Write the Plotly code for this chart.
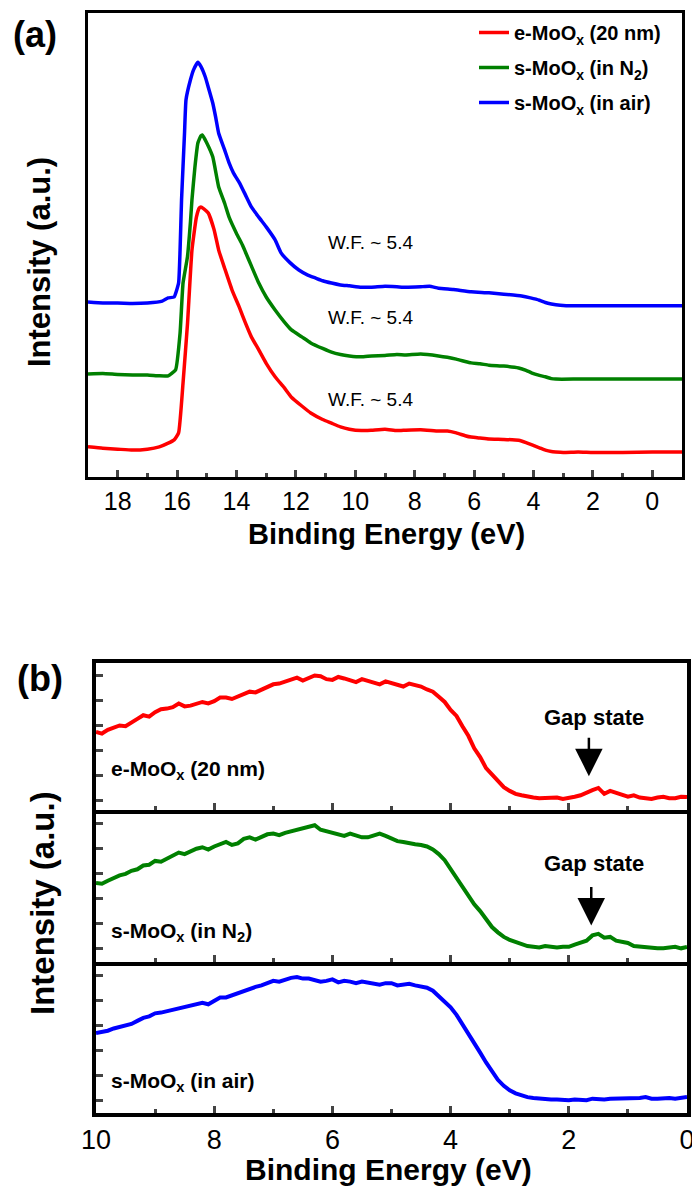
import plotly.graph_objects as go

W, H = 692, 1186
def px(x):
    return x / W
def py(y):
    return 1 - y / H

FONT = "Liberation Sans, Arial, sans-serif"
RED, GREEN, BLUE = "#ff0000", "#008000", "#0000ff"

# ---------------- Panel (a): secondary-electron cutoff spectra (binding energy, intensity a.u.) ----
red_a = [(19.0, 6.5), (18.5, 6.2), (18.0, 6.0), (17.5, 5.8), (17.0, 6.0), (16.6, 6.5), (16.3, 7.3),
         (16.1, 8.0), (15.95, 9.5), (15.8, 20.3), (15.65, 33.0), (15.5, 48.9), (15.35, 56.0),
         (15.25, 58.0), (15.2, 58.2), (15.1, 57.8), (14.95, 56.9), (14.75, 53.2), (14.6, 48.9),
         (14.4, 45.0), (14.15, 40.3), (13.9, 36.5), (13.7, 33.2), (13.5, 30.2), (13.25, 27.4),
         (13.0, 24.5), (12.7, 21.6), (12.4, 19.3), (12.15, 17.2), (11.8, 15.3), (11.5, 13.8),
         (11.1, 12.4), (10.8, 11.6), (10.5, 10.8), (10.2, 10.3), (9.8, 10.0), (9.45, 10.1),
         (9.0, 10.3), (8.6, 10.0), (8.3, 10.1), (7.8, 10.2), (7.2, 9.9), (6.9, 9.9), (6.6, 9.5),
         (6.3, 8.9), (6.1, 8.6), (5.8, 8.4), (5.5, 8.2), (5.0, 8.1), (4.5, 7.9), (4.25, 7.4),
         (4.05, 6.9), (3.8, 6.3), (3.6, 5.8), (3.4, 5.5), (3.25, 5.4), (3.0, 5.3), (2.5, 5.4),
         (2.0, 5.3), (1.0, 5.3), (0.0, 5.4), (-1.0, 5.4)]
green_a = [(19.0, 22.2), (18.5, 22.3), (18.0, 22.1), (17.5, 22.0), (17.0, 22.0), (16.6, 21.8),
           (16.3, 21.8), (16.05, 23.1), (15.9, 31.0), (15.8, 41.8), (15.65, 47.5), (15.55, 55.0),
           (15.5, 59.7), (15.4, 66.8), (15.3, 72.0), (15.2, 73.5), (15.15, 73.7), (15.0, 72.0),
           (14.8, 69.0), (14.6, 62.5), (14.4, 59.0), (14.25, 56.0), (14.0, 52.5), (13.8, 50.0),
           (13.7, 48.5), (13.5, 45.5), (13.25, 41.8), (13.0, 38.8), (12.7, 36.0), (12.4, 33.5),
           (12.15, 31.7), (11.8, 30.2), (11.5, 28.9), (11.1, 27.7), (10.8, 26.9), (10.5, 26.4),
           (10.2, 26.1), (9.8, 25.9), (9.45, 26.1), (9.0, 26.2), (8.6, 26.4), (8.3, 26.3),
           (7.8, 26.5), (7.2, 26.1), (6.9, 25.8), (6.6, 25.4), (6.3, 24.9), (6.1, 24.6),
           (5.8, 24.4), (5.5, 24.1), (5.0, 23.9), (4.5, 23.5), (4.25, 23.0), (4.05, 22.4),
           (3.8, 21.9), (3.6, 21.6), (3.4, 21.2), (3.25, 21.1), (2.5, 21.1), (1.0, 21.1),
           (0.0, 21.1), (-1.0, 21.1)]
blue_a = [(19.0, 37.7), (18.5, 37.5), (18.0, 37.5), (17.5, 37.4), (17.0, 37.5), (16.5, 37.9),
          (16.3, 38.6), (16.1, 38.8), (15.95, 41.8), (15.9, 48.9), (15.85, 59.7), (15.8, 67.0),
          (15.75, 74.1), (15.7, 81.3), (15.55, 85.6), (15.45, 87.7), (15.3, 89.4), (15.2, 88.5),
          (15.05, 86.2), (14.95, 84.0), (14.8, 80.6), (14.7, 77.5), (14.6, 74.1), (14.4, 70.5),
          (14.25, 67.7), (14.1, 65.5), (13.9, 63.4), (13.7, 60.8), (13.5, 58.2), (13.25, 56.0),
          (13.0, 53.9), (12.7, 51.1), (12.5, 48.3), (12.2, 46.2), (11.9, 44.6), (11.6, 43.5),
          (11.35, 42.9), (11.1, 42.3), (10.8, 41.8), (10.5, 41.4), (10.2, 41.2), (9.8, 40.9),
          (9.45, 40.9), (9.0, 41.1), (8.6, 41.0), (8.3, 40.9), (7.8, 41.0), (7.5, 41.1),
          (7.2, 40.7), (6.7, 40.4), (6.1, 39.9), (5.5, 39.7), (5.0, 39.4), (4.4, 39.0),
          (4.1, 38.6), (3.8, 38.1), (3.6, 37.6), (3.4, 37.3), (3.1, 37.0), (2.9, 36.9),
          (2.0, 36.9), (1.0, 36.9), (0.0, 36.9), (-1.0, 36.9)]

names = ["<b>e-MoO<sub>x</sub> (20 nm)</b>", "<b>s-MoO<sub>x</sub> (in N<sub>2</sub>)</b>",
         "<b>s-MoO<sub>x</sub> (in air)</b>"]
wf_labels = ["W.F. ~ 5.4", "W.F. ~ 5.4", "W.F. ~ 5.4"]
wf_y = [16.8, 34.3, 50.6]

# ---------------- Panel (b): valence band region ----------------
E_b = [10.0, 9.9, 9.8, 9.7, 9.6, 9.5, 9.4, 9.3, 9.2, 9.1,
       9.0, 8.9, 8.8, 8.7, 8.6, 8.5, 8.4, 8.3, 8.2, 8.1,
       8.0, 7.9, 7.8, 7.7, 7.6, 7.5, 7.4, 7.3, 7.2, 7.1,
       7.0, 6.9, 6.8, 6.7, 6.6, 6.5, 6.4, 6.3, 6.2, 6.1,
       6.0, 5.9, 5.8, 5.7, 5.6, 5.5, 5.4, 5.3, 5.2, 5.1,
       5.0, 4.9, 4.8, 4.7, 4.6, 4.5, 4.4, 4.3, 4.2, 4.1,
       4.0, 3.9, 3.8, 3.7, 3.6, 3.5, 3.4, 3.3, 3.2, 3.1,
       3.0, 2.9, 2.8, 2.7, 2.6, 2.5, 2.4, 2.3, 2.2, 2.1,
       2.0, 1.9, 1.8, 1.7, 1.6, 1.5, 1.4, 1.3, 1.2, 1.1,
       1.0, 0.9, 0.8, 0.7, 0.6, 0.5, 0.4, 0.3, 0.2, 0.1,
       0.0]
red_b = [53.1, 52.0, 54.5, 56.0, 57.5, 57.0, 59.8, 62.0, 64.5, 63.5,
         66.5, 68.5, 69.0, 70.0, 72.5, 70.5, 71.0, 72.5, 73.5, 72.5,
         74.0, 76.5, 76.5, 75.5, 77.0, 79.0, 80.5, 80.0, 82.0, 84.0,
         85.5, 86.0, 87.5, 88.5, 90.0, 88.0, 89.5, 91.5, 91.0, 89.0,
         88.5, 90.5, 89.5, 88.0, 87.0, 89.0, 88.0, 86.5, 85.5, 87.5,
         86.5, 85.0, 84.0, 86.0, 85.0, 84.0, 82.0, 80.5, 77.0, 73.5,
         68.0, 64.0, 57.0, 50.5, 42.0, 36.0, 28.5, 24.0, 19.5, 15.5,
         13.0, 11.0, 10.0, 9.0, 8.5, 8.0, 8.0, 8.5, 8.5, 7.5,
         8.0, 9.0, 10.0, 12.0, 13.5, 15.0, 11.0, 13.0, 11.5, 10.0,
         9.0, 10.0, 8.5, 8.0, 7.5, 8.5, 9.0, 8.0, 8.0, 9.0,
         8.8]
green_b = [52.0, 51.5, 53.5, 55.5, 57.0, 58.0, 60.0, 61.0, 63.5, 64.0,
           66.5, 66.0, 68.0, 70.5, 72.0, 71.0, 73.0, 74.5, 75.5, 74.0,
           76.0, 77.5, 79.0, 77.0, 78.0, 81.0, 82.0, 80.5, 82.5, 84.0,
           84.5, 83.5, 85.0, 86.0, 86.5, 87.5, 88.5, 90.0, 87.0, 86.0,
           85.5, 84.0, 83.0, 84.5, 83.5, 82.0, 82.0, 83.0, 84.5, 83.0,
           81.0, 79.5, 79.0, 78.0, 77.5, 77.0, 76.0, 74.0, 71.0, 67.0,
           61.0, 55.5, 49.5, 44.0, 38.0, 33.5, 28.0, 23.0, 19.5, 16.5,
           14.5, 13.0, 11.5, 10.5, 10.0, 9.5, 10.5, 10.0, 9.5, 10.0,
           10.0, 11.5, 13.0, 14.0, 17.5, 18.5, 16.0, 16.5, 14.0, 13.0,
           12.5, 10.5, 10.0, 9.5, 9.5, 9.0, 9.0, 9.5, 10.0, 9.0,
           9.9]
blue_b = [53.0, 53.5, 54.5, 56.0, 57.0, 58.5, 59.0, 61.0, 63.0, 64.0,
          66.0, 66.5, 67.5, 68.0, 69.5, 70.0, 71.0, 72.5, 73.0, 72.0,
          74.5, 76.5, 76.5, 78.0, 79.5, 80.5, 82.0, 83.5, 84.5, 86.0,
          87.5, 87.0, 88.5, 89.5, 90.0, 89.0, 89.0, 88.0, 87.0, 87.5,
          88.5, 86.5, 87.5, 87.0, 86.0, 87.0, 86.5, 85.5, 85.0, 86.0,
          86.0, 84.5, 85.0, 85.5, 84.5, 84.0, 83.0, 81.0, 77.5, 74.0,
          70.0, 65.0, 59.0, 53.0, 46.0, 40.0, 33.5, 27.5, 22.0, 18.0,
          15.0, 13.0, 11.5, 10.5, 10.0, 9.5, 9.5, 9.0, 9.0, 8.5,
          8.5, 9.0, 9.0, 8.5, 9.5, 9.0, 9.0, 9.5, 9.5, 10.0,
          9.5, 9.5, 10.0, 10.5, 9.5, 9.5, 10.0, 10.0, 9.5, 10.0,
          10.6]
labels_b = ["<b>e-MoO<sub>x</sub> (20 nm)</b>", "<b>s-MoO<sub>x</sub> (in N<sub>2</sub>)</b>",
            "<b>s-MoO<sub>x</sub> (in air)</b>"]
gap_E = [1.66, 1.62]            # binding energy of gap-state feature
gap_tip = [23.0, 24.0]          # intensity at arrow tip

ticks_a = [18, 16, 14, 12, 10, 8, 6, 4, 2, 0]
ticks_b = [10, 8, 6, 4, 2, 0]

fig = go.Figure()
for data, c, n in zip([red_a, green_a, blue_a], [RED, GREEN, BLUE], names):
    fig.add_trace(go.Scatter(x=[p[0] for p in data], y=[p[1] for p in data], mode="lines",
                             line=dict(color=c, width=3.5, shape="spline", smoothing=0.4),
                             name=n, legendgroup=n, xaxis="x", yaxis="y"))
for i, (ys, c) in enumerate(zip([red_b, green_b, blue_b], [RED, GREEN, BLUE])):
    fig.add_trace(go.Scatter(x=E_b, y=ys, mode="lines", line=dict(color=c, width=4),
                             showlegend=False, xaxis=f"x{i+2}", yaxis=f"y{i+2}"))

base = dict(showline=True, linecolor="black", showgrid=False, zeroline=False)
layout = dict(
    width=W, height=H, margin=dict(l=0, r=0, t=0, b=0, autoexpand=False),
    paper_bgcolor="white", plot_bgcolor="white",
    font=dict(family=FONT, color="black"),
    showlegend=True,
    legend=dict(x=px(474), y=py(13), xanchor="left", yanchor="top", bgcolor="rgba(0,0,0,0)",
                font=dict(size=20, family=FONT, color="black"), tracegroupgap=6,
                traceorder="grouped"),
    xaxis=dict(domain=[px(88), px(682)], anchor="y", range=[19, -1], tickvals=ticks_a,
               ticks="inside", ticklen=7, tickwidth=3, linewidth=3, mirror=True,
               minor=dict(tickvals=[1, 3, 5, 7, 9, 11, 13, 15, 17], ticks="inside", ticklen=4, tickwidth=2.5),
               tickfont=dict(size=25, family=FONT), ticklabeloverflow="allow", **base),
    yaxis=dict(domain=[py(477), py(13)], anchor="x", range=[0, 100], showticklabels=False,
               ticks="", linewidth=3, mirror=True, **base),
)
doms = [(663, 810), (810, 962), (962, 1113)]
for i, (top, bot) in enumerate(doms):
    k = i + 2
    hgt = bot - top
    layout[f"xaxis{k}"] = dict(domain=[px(96), px(687)], anchor=f"y{k}", range=[10, 0],
                               tickvals=ticks_b, ticks="inside", ticklen=7, tickwidth=3, linewidth=3.5,
                               mirror=(k == 2), ticklabeloverflow="allow",
                               minor=dict(tickvals=[1, 3, 5, 7, 9], ticks="inside", ticklen=4, tickwidth=2.5),
                               showticklabels=(k == 4), tickfont=dict(size=27, family=FONT), **base)
    off = [10, 14, 13][i]
    layout[f"yaxis{k}"] = dict(domain=[py(bot), py(top)], anchor=f"x{k}", range=[0, 100],
                               showticklabels=False, ticks="inside", ticklen=7, tickwidth=3,
                               tick0=off / hgt * 100, dtick=25 / hgt * 100, linewidth=3.5,
                               mirror=True, **base)
fig.update_layout(**layout)

C = dict(xanchor="center", yanchor="middle", showarrow=False)
ann = []
ann.append(dict(text="<b>Intensity (a.u.)</b>", x=px(39), y=py(262), xref="paper", yref="paper",
                textangle=-90, font=dict(size=31), **C))
ann.append(dict(text="<b>Binding Energy (eV)</b>", x=px(386), y=py(534), xref="paper", yref="paper",
                font=dict(size=29), **C))
ann.append(dict(text="<b>(a)</b>", x=px(35), y=py(34), xref="paper", yref="paper",
                font=dict(size=36), **C))
ann.append(dict(text="<b>Intensity (a.u.)</b>", x=px(42), y=py(903), xref="paper", yref="paper",
                textangle=-90, font=dict(size=33), **C))
ann.append(dict(text="<b>Binding Energy (eV)</b>", x=px(389), y=py(1169), xref="paper", yref="paper",
                font=dict(size=30), **C))
ann.append(dict(text="<b>(b)</b>", x=px(40), y=py(678), xref="paper", yref="paper",
                font=dict(size=36), **C))
for t, yv in zip(wf_labels, wf_y):
    ann.append(dict(text=t, x=8.0, y=yv, xref="x", yref="y", xanchor="right", yanchor="middle",
                    showarrow=False, font=dict(size=19)))
lab_y = [27.2, 19.7, 20.5]
for i, (t, yv) in enumerate(zip(labels_b, lab_y)):
    ann.append(dict(text=t, x=9.78, y=yv, xref=f"x{i+2}", yref=f"y{i+2}", xanchor="left",
                    yanchor="middle", showarrow=False, font=dict(size=21)))
gap_text_y = [62.6, 65.1]
for i in range(2):
    ann.append(dict(text="<b>Gap state</b>", x=1.57, y=gap_text_y[i], xref=f"x{i+2}", yref=f"y{i+2}",
                    font=dict(size=22), **C))
    ann.append(dict(text="", x=gap_E[i], y=gap_tip[i], xref=f"x{i+2}", yref=f"y{i+2}",
                    showarrow=True, ax=0, ay=-40, arrowhead=2, arrowsize=2.2, arrowwidth=2.5,
                    arrowcolor="black"))
fig.update_layout(annotations=ann)

fig.write_html("out.html", config={"displayModeBar": False},
               post_script="document.body.style.margin='0';document.body.style.overflow='hidden';")
